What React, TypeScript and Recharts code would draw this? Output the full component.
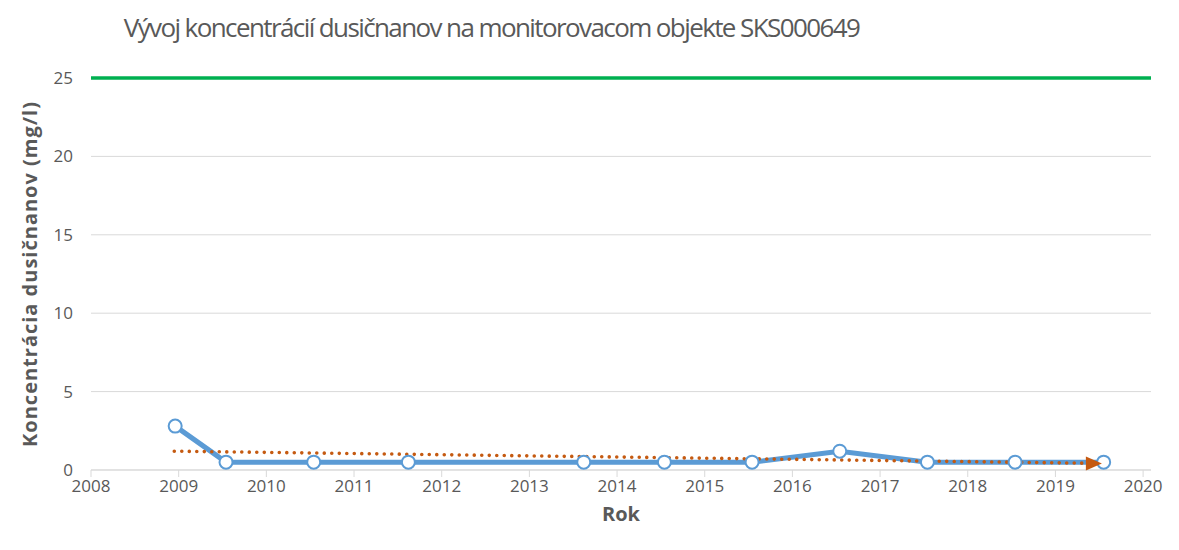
import React from 'react';
import { LineChart, Line, XAxis, YAxis, CartesianGrid, ReferenceLine, Label } from 'recharts';

const title = 'Vývoj koncentrácií dusičnanov na monitorovacom objekte SKS000649';
const yLabel = 'Koncentrácia dusičnanov (mg/l)';
const xLabel = 'Rok';

// sampling times (decimal years) and measured nitrate values
const sampleYears = [2008.96, 2009.54, 2010.54, 2011.62, 2013.62, 2014.54, 2015.54, 2016.54, 2017.54, 2018.54, 2019.55];
const sampleValues = [2.8, 0.5, 0.5, 0.5, 0.5, 0.5, 0.5, 1.2, 0.5, 0.5, 0.5];

// linear trend end points
const trendYears = [2008.95, 2019.53];
const trendValues = [1.2, 0.42];

const limitValue = 25;
const yearTicks = [2008, 2009, 2010, 2011, 2012, 2013, 2014, 2015, 2016, 2017, 2018, 2019, 2020];
const valueTicks = [0, 5, 10, 15, 20, 25];

const samples = sampleYears.map((x, i) => ({ x, y: sampleValues[i] }));
const trend = trendYears.map((x, i) => ({ x, y: trendValues[i] }));

const FONT = '"Open Sans", sans-serif';
const TEXT = '#595959';
const GRID = '#d9d9d9';

const ArrowDot = (props: any) => {
  const { cx, cy, index } = props;
  if (index !== trend.length - 1) return <g key={`t${index}`} />;
  return (
    <path
      key={`t${index}`}
      d={`M${cx},${cy} L${cx - 16},${cy - 7} L${cx - 16},${cy + 7} Z`}
      fill="#C55A11"
    />
  );
};

const App = () => {
  return (
    <div style={{ position: 'relative', width: 1170, height: 542, fontFamily: FONT }}>
      <div
        style={{
          position: 'absolute',
          top: 1,
          left: 0,
          width: 967,
          textAlign: 'center',
          fontSize: 26,
          color: TEXT,
          fontWeight: 400,
          letterSpacing: -1.6,
          whiteSpace: 'nowrap',
        }}
      >
        {title}
      </div>
      <LineChart
        width={1170}
        height={542}
        margin={{ top: 70, right: 27, left: 0, bottom: 20 }}
      >
        <CartesianGrid vertical={false} stroke={GRID} strokeWidth={1} />
        <XAxis
          dataKey="x"
          type="number"
          domain={[2008, 2020.09]}
          ticks={yearTicks}
          allowDataOverflow
          height={60}
          stroke={GRID}
          tickSize={7}
          tickMargin={3}
          fontSize={17}
          tick={{ fill: TEXT, fontSize: 17, fontFamily: FONT }}
        >
          <Label
            content={(props: any) => {
              const vb = props.viewBox || {};
              return (
                <text
                  x={vb.x + vb.width / 2}
                  y={vb.y + 51}
                  textAnchor="middle"
                  fill={TEXT}
                  fontSize={20}
                  fontWeight={700}
                  fontFamily={FONT}
                >
                  {xLabel}
                </text>
              );
            }}
          />
        </XAxis>
        <YAxis
          type="number"
          domain={[0, 25]}
          ticks={valueTicks}
          width={83}
          axisLine={false}
          tickLine={false}
          tickSize={6}
          tickMargin={12}
          fontSize={17}
          tick={{ fill: TEXT, fontSize: 17, fontFamily: FONT }}
        >
          <Label
            content={(props: any) => {
              const vb = props.viewBox || {};
              const cx = 21;
              const cy = vb.y + vb.height / 2;
              return (
                <text
                  x={cx}
                  y={cy}
                  transform={`rotate(-90, ${cx}, ${cy})`}
                  textAnchor="middle"
                  dominantBaseline="central"
                  fill={TEXT}
                  fontSize={20}
                  fontWeight={700}
                  letterSpacing={1}
                  fontFamily={FONT}
                >
                  {yLabel}
                </text>
              );
            }}
          />
        </YAxis>
        <ReferenceLine y={limitValue} stroke="#00B050" strokeWidth={3.5} ifOverflow="extendDomain" />
        <Line
          data={samples}
          dataKey="y"
          type="linear"
          stroke="#5B9BD5"
          strokeWidth={5}
          dot={{ r: 6.5, fill: '#ffffff', stroke: '#5B9BD5', strokeWidth: 2 }}
          activeDot={false}
          isAnimationActive={false}
        />
        <Line
          data={trend}
          dataKey="y"
          type="linear"
          stroke="#C55A11"
          strokeWidth={3.6}
          strokeDasharray="0 7.5"
          strokeLinecap="round"
          dot={ArrowDot}
          activeDot={false}
          isAnimationActive={false}
        />
      </LineChart>
    </div>
  );
};

export default App;
